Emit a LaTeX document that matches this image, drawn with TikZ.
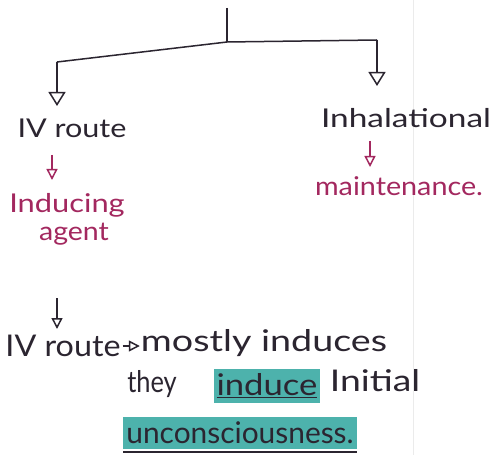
\documentclass[tikz,border=0pt]{standalone}
\usepackage{fontspec}
\usepackage{graphicx}
\setmainfont{Lato}
\usetikzlibrary{arrows.meta}
\definecolor{ink}{HTML}{2B2530}
\definecolor{pinkink}{HTML}{A3285F}
\definecolor{hl}{HTML}{4DB2AC}
\newcommand{\sx}[2]{\scalebox{#1}[1]{#2}}
\begin{document}
\begin{tikzpicture}[x=1bp,y=-1bp,
  inktxt/.style={text=ink,font=\fontsize{26}{28}\selectfont,inner sep=0pt,anchor=center},
  bigtxt/.style={text=ink,font=\fontsize{30}{32}\selectfont,inner sep=0pt,anchor=center},
  pinktxt/.style={text=pinkink,font=\fontsize{26}{28}\selectfont,inner sep=0pt,anchor=center},
  hlbox/.style={fill=hl,inner xsep=3bp,inner ysep=5bp},
  tree/.style={draw=ink,line width=1.5bp},
  bigtip/.style={tree,-{Triangle[open,length=14bp,width=17bp]}},
  pinktip/.style={draw=pinkink,line width=1.5bp,-{Triangle[open,length=11bp,width=11bp]}},
  inktip/.style={draw=ink,line width=1.5bp,-{Triangle[open,length=11bp,width=11bp]}}]
\useasboundingbox (0,0) rectangle (493,455);
\fill[white] (0,0) rectangle (493,455);
% faint page rule
\coordinate (ruleA) at (413,0);
\coordinate (ruleB) at (413,455);
\draw[black!8,line width=0.8bp] (ruleA) -- (ruleB);
% tree
\coordinate (top) at (227,8);
\coordinate (junc) at (227,42);
\coordinate (lc) at (57,62);
\coordinate (ltip) at (57,106);
\coordinate (rc) at (377,40);
\coordinate (rtip) at (377,86);
\draw[tree] (top) -- (junc);
\draw[tree] (junc) -- (lc);
\draw[tree] (junc) -- (rc);
\draw[bigtip] (lc) -- (ltip);
\draw[bigtip] (rc) -- (rtip);
% left branch
\node[inktxt] (ivr) at (72,128) {\sx{1.18}{IV route}};
\coordinate (pa1) at (52,155);
\coordinate (pa2) at (52,180);
\draw[pinktip] (pa1) -- (pa2);
\node[pinktxt] (ind) at (67,205) {\sx{1.19}{Inducing}};
\node[pinktxt] (agent) at (74,234) {\sx{1.1}{agent}};
% right branch
\node[inktxt] (inh) at (406,118) {\sx{1.29}{Inhalational}};
\coordinate (pb1) at (370,141);
\coordinate (pb2) at (370,167);
\draw[pinktip] (pb1) -- (pb2);
\node[pinktxt] (maint) at (399,186) {\sx{1.11}{maintenance.}};
% bottom
\coordinate (ba1) at (57,298);
\coordinate (ba2) at (57,329);
\draw[inktip] (ba1) -- (ba2);
\node[bigtxt] (ivr2) at (63,346) {\sx{1.08}{IV route}};
\node[bigtxt] (mostly) at (264,343) {\sx{1.26}{mostly induces}};
\draw[inktip,shorten <=2bp,shorten >=1bp] (ivr2.east) -- (ivr2.east -| mostly.west);
\node[bigtxt] (they) at (152,384) {\sx{0.85}{they}};
\node[bigtxt,hlbox] (induce) at (267,386) {\sx{1.16}{\underline{induce}}};
\node[bigtxt] (initial) at (375,381) {\sx{1.25}{Initial}};
\node[bigtxt,hlbox] (uncon) at (240,433) {\sx{1.0}{unconsciousness.}};
\coordinate (ul1) at (uncon.south west);
\coordinate (ul2) at (uncon.south east);
\draw[ink,line width=1.5bp] ([yshift=-3bp]ul1) -- ([yshift=-3bp]ul2);
\end{tikzpicture}
\end{document}
